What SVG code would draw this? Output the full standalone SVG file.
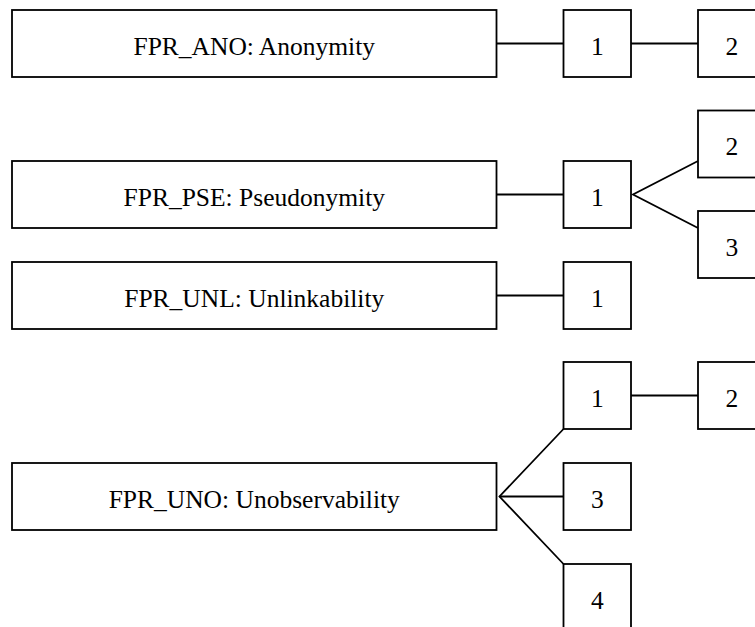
<svg xmlns="http://www.w3.org/2000/svg" width="755" height="627" viewBox="0 0 755 627">
<style>
.n{fill:#fff;stroke:#000;stroke-width:1.8}
line,polyline{fill:none;stroke:#000;stroke-width:1.8}
text{font-family:"Liberation Serif","DejaVu Serif",serif;font-size:25.5px;text-anchor:middle;fill:#000}
</style>
<rect width="755" height="627" style="fill:#fff;stroke:none"/>
<g id="connectors">
<line x1="496.5" y1="43.5" x2="563.5" y2="43.5"/>
<line x1="631" y1="43.5" x2="698" y2="43.5"/>
<line x1="496.5" y1="194.5" x2="563.5" y2="194.5"/>
<polyline points="698,161 633,194.5 698,228"/>
<line x1="496.5" y1="295.5" x2="563.5" y2="295.5"/>
<line x1="631" y1="395.5" x2="698" y2="395.5"/>
<polyline points="563.5,429 499.5,496.5 563.5,564"/>
<line x1="499.5" y1="496.5" x2="563.5" y2="496.5"/>
</g>
<g id="ano"><rect class="n" x="12" y="10" width="484.5" height="67"/><text x="254.25" y="54.5">FPR_ANO: Anonymity</text></g>
<g id="ano1"><rect class="n" x="563.5" y="10" width="67.5" height="67"/><text x="597.25" y="54.5">1</text></g>
<g id="ano2"><rect class="n" x="698" y="10" width="67.5" height="67"/><text x="731.75" y="54.5">2</text></g>
<g id="pse"><rect class="n" x="12" y="161" width="484.5" height="67"/><text x="254.25" y="205.5">FPR_PSE: Pseudonymity</text></g>
<g id="pse1"><rect class="n" x="563.5" y="161" width="67.5" height="67"/><text x="597.25" y="205.5">1</text></g>
<g id="pse2"><rect class="n" x="698" y="110.5" width="67.5" height="67"/><text x="731.75" y="155">2</text></g>
<g id="pse3"><rect class="n" x="698" y="211" width="67.5" height="67"/><text x="731.75" y="255.5">3</text></g>
<g id="unl"><rect class="n" x="12" y="262" width="484.5" height="67"/><text x="254.25" y="306.5">FPR_UNL: Unlinkability</text></g>
<g id="unl1"><rect class="n" x="563.5" y="262" width="67.5" height="67"/><text x="597.25" y="306.5">1</text></g>
<g id="uno1"><rect class="n" x="563.5" y="362" width="67.5" height="67"/><text x="597.25" y="406.5">1</text></g>
<g id="uno2"><rect class="n" x="698" y="362" width="67.5" height="67"/><text x="731.75" y="406.5">2</text></g>
<g id="uno"><rect class="n" x="12" y="463" width="484.5" height="67"/><text x="254.25" y="507.5">FPR_UNO: Unobservability</text></g>
<g id="uno3"><rect class="n" x="563.5" y="463" width="67.5" height="67"/><text x="597.25" y="507.5">3</text></g>
<g id="uno4"><rect class="n" x="563.5" y="564" width="67.5" height="67"/><text x="597.25" y="608.5">4</text></g>
</svg>
